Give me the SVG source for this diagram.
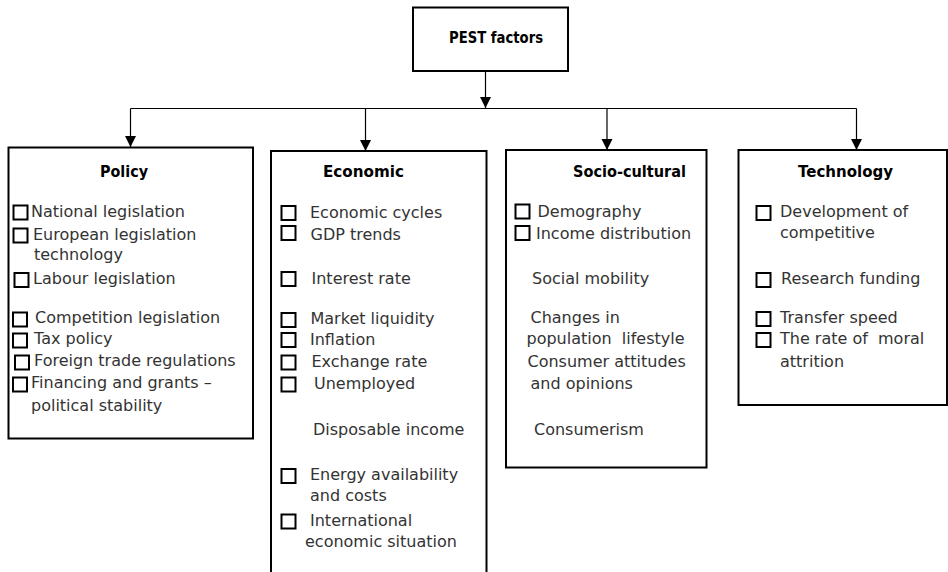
<svg xmlns="http://www.w3.org/2000/svg" width="948" height="572" viewBox="0 0 948 572">
<style>
.box{fill:#fff;stroke:#000;stroke-width:2}
.cb{fill:none;stroke:#000;stroke-width:2}
.ln{fill:none;stroke:#000;stroke-width:1.2}
.t{font-family:"DejaVu Sans","Liberation Sans",sans-serif;font-size:16px;fill:#333;white-space:pre}
.h{font-family:"DejaVu Sans","Liberation Sans",sans-serif;font-size:15px;font-weight:bold;fill:#000}
</style>
<defs>
<marker id="arr" markerUnits="userSpaceOnUse" markerWidth="12" markerHeight="12" refX="11" refY="5.5" orient="auto">
<path d="M0,0 L11,5.5 L0,11 Z" fill="#000"/>
</marker>
</defs>
<g id="connectors">
<line class="ln" x1="485.5" y1="71" x2="485.5" y2="108" marker-end="url(#arr)"/>
<line class="ln" x1="130.5" y1="108.5" x2="856.5" y2="108.5"/>
<line class="ln" x1="130.5" y1="108.5" x2="130.5" y2="147" marker-end="url(#arr)"/>
<line class="ln" x1="365.5" y1="108.5" x2="365.5" y2="151" marker-end="url(#arr)"/>
<line class="ln" x1="607" y1="108.5" x2="607" y2="150" marker-end="url(#arr)"/>
<line class="ln" x1="856.5" y1="108.5" x2="856.5" y2="150" marker-end="url(#arr)"/>
</g>
<g id="pest">
<rect class="box" x="413" y="7.5" width="155" height="63.5"/>
<text class="h" x="449" y="43" textLength="94" lengthAdjust="spacingAndGlyphs">PEST factors</text>
</g>
<g id="policy">
<rect class="box" x="8.5" y="147.5" width="244.5" height="291"/>
<text class="h" x="100" y="177" textLength="48" lengthAdjust="spacingAndGlyphs">Policy</text>
<rect class="cb" x="13.5" y="205.5" width="14" height="14"/>
<text class="t" x="31" y="217">National legislation</text>
<rect class="cb" x="13.5" y="228.5" width="14" height="14"/>
<text class="t" x="33" y="240">European legislation</text>
<text class="t" x="34" y="260">technology</text>
<rect class="cb" x="14.5" y="273" width="14" height="14"/>
<text class="t" x="33" y="284">Labour legislation</text>
<rect class="cb" x="13" y="312.5" width="14" height="14"/>
<text class="t" x="35" y="323">Competition legislation</text>
<rect class="cb" x="13" y="333.5" width="14" height="14"/>
<text class="t" x="34" y="344">Tax policy</text>
<rect class="cb" x="15" y="355.5" width="14" height="14"/>
<text class="t" x="34" y="366">Foreign trade regulations</text>
<rect class="cb" x="13" y="377.5" width="14" height="14"/>
<text class="t" x="31" y="388">Financing and grants –</text>
<text class="t" x="31" y="411">political stability</text>
</g>
<g id="economic">
<rect class="box" x="271" y="151" width="215.5" height="440"/>
<text class="h" x="323" y="177" textLength="81" lengthAdjust="spacingAndGlyphs">Economic</text>
<rect class="cb" x="281.5" y="206" width="14" height="14"/>
<text class="t" x="310" y="217.5">Economic cycles</text>
<rect class="cb" x="281.5" y="226" width="14" height="14"/>
<text class="t" x="310.5" y="239.5">GDP trends</text>
<rect class="cb" x="281.5" y="272" width="14" height="14"/>
<text class="t" x="311.5" y="284">Interest rate</text>
<rect class="cb" x="281.5" y="313" width="14" height="14"/>
<text class="t" x="310.5" y="323.5">Market liquidity</text>
<rect class="cb" x="281.5" y="333" width="14" height="14"/>
<text class="t" x="310" y="344.5">Inflation</text>
<rect class="cb" x="281.5" y="355.5" width="14" height="14"/>
<text class="t" x="311.5" y="366.5">Exchange rate</text>
<rect class="cb" x="281.5" y="377.5" width="14" height="14"/>
<text class="t" x="314" y="389">Unemployed</text>
<text class="t" x="313" y="435">Disposable income</text>
<rect class="cb" x="281.5" y="469" width="14" height="14"/>
<text class="t" x="310" y="480">Energy availability</text>
<text class="t" x="310" y="501">and costs</text>
<rect class="cb" x="281.5" y="514.5" width="14" height="14"/>
<text class="t" x="310" y="525.5">International</text>
<text class="t" x="305" y="547">economic situation</text>
</g>
<g id="socio">
<rect class="box" x="506" y="150" width="200.5" height="317.5"/>
<text class="h" x="573" y="177" textLength="113" lengthAdjust="spacingAndGlyphs">Socio-cultural</text>
<rect class="cb" x="515.5" y="204.5" width="14" height="14"/>
<text class="t" x="537.5" y="217">Demography</text>
<rect class="cb" x="515.5" y="226" width="14" height="14"/>
<text class="t" x="536" y="239">Income distribution</text>
<text class="t" x="532" y="284">Social mobility</text>
<text class="t" x="530.5" y="323">Changes in</text>
<text class="t" x="526.5" y="344">population  lifestyle</text>
<text class="t" x="527.5" y="366.5">Consumer attitudes</text>
<text class="t" x="530.5" y="389">and opinions</text>
<text class="t" x="534" y="435">Consumerism</text>
</g>
<g id="technology">
<rect class="box" x="738.5" y="150" width="208.5" height="255"/>
<text class="h" x="798" y="177" textLength="95" lengthAdjust="spacingAndGlyphs">Technology</text>
<rect class="cb" x="756.5" y="206" width="14" height="14"/>
<text class="t" x="780" y="217">Development of</text>
<text class="t" x="780" y="238">competitive</text>
<rect class="cb" x="756.5" y="273" width="14" height="14"/>
<text class="t" x="781" y="284">Research funding</text>
<rect class="cb" x="756.5" y="312" width="14" height="14"/>
<text class="t" x="780" y="322.5">Transfer speed</text>
<rect class="cb" x="756.5" y="333" width="14" height="14"/>
<text class="t" x="780" y="344">The rate of  moral</text>
<text class="t" x="780" y="366.5">attrition</text>
</g>
</svg>
